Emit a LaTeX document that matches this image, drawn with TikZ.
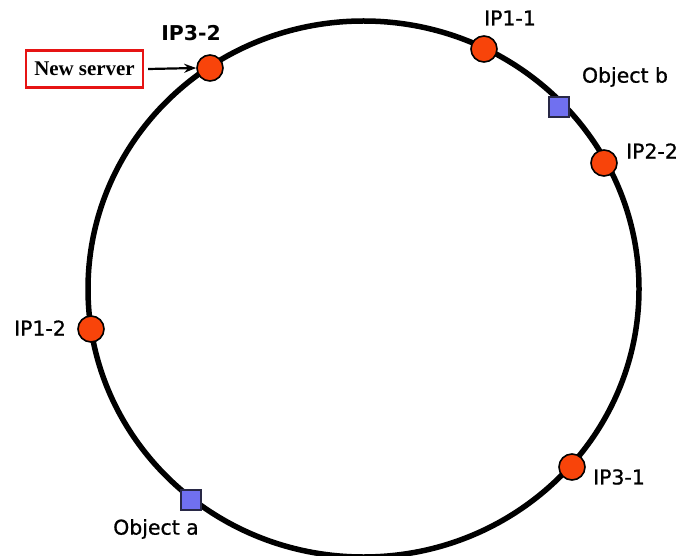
\documentclass[tikz,border=0pt]{standalone}
\usepackage{fontspec}
\setmainfont{Liberation Serif}
\newfontfamily\labelfont[FakeBold=0.8]{DejaVu Sans}
\newfontfamily\boldlabelfont{DejaVu Sans Bold}
\usetikzlibrary{arrows.meta}
\definecolor{serverfill}{RGB}{248,68,10}
\definecolor{objfill}{RGB}{112,112,240}
\definecolor{objedge}{RGB}{40,40,70}
\definecolor{boxred}{RGB}{230,20,20}
\tikzset{
  ring/.style={line width=5.5bp, black},
  server/.style={circle, draw=black, line width=1.6bp, fill=serverfill, minimum size=26bp, inner sep=0pt},
  obj/.style={rectangle, draw=objedge, line width=1.3bp, fill=objfill, minimum size=20bp, inner sep=0pt},
  lbl/.style={font=\labelfont\fontsize{20.5}{24}\selectfont, text=black, inner sep=0pt},
  blbl/.style={font=\boldlabelfont\fontsize{20.5}{24}\selectfont, text=black, inner sep=0pt},
  newbox/.style={draw=boxred, line width=2.2bp, minimum width=117bp, minimum height=37bp, inner sep=0pt, font=\bfseries\fontsize{21}{24}\selectfont},
}
\begin{document}
\begin{tikzpicture}[x=1bp, y=-1bp]
\useasboundingbox (0,0) rectangle (681,556);
\fill[white] (0,0) rectangle (681,556);
\begin{scope}
\clip (0,0) rectangle (681,556);
\draw[ring] (363.5,289) ellipse [x radius=275.5, y radius=268];
\end{scope}
% servers
\node[server] (ip32) at (210,68) {};
\node[server] (ip11) at (484,49) {};
\node[server] (ip22) at (604,163) {};
\node[server] (ip12) at (91,329) {};
\node[server] (ip31) at (572,467) {};
% objects
\node[obj] (objb) at (559,107) {};
\node[obj] (obja) at (191,500) {};
% labels
\node[blbl] (lip32) at (191,33) {IP3-2};
\node[lbl] (lip11) at (510,18) {IP1-1};
\node[lbl] (lobjb) at (625,77) {Object b};
\node[lbl] (lip22) at (652,151) {IP2-2};
\node[lbl] (lip12) at (40,328) {IP1-2};
\node[lbl] (lobja) at (156,529) {Object a};
\node[lbl] (lip31) at (619,477) {IP3-1};
% new server box
\node[newbox] (ns) at (84.5,69) {New server};
\draw[line width=2.2bp, -{Stealth[length=12bp, width=9bp]}] (ns.east) ++(4,0) coordinate (nsa) -- (ip32.west);
\end{tikzpicture}
\end{document}
